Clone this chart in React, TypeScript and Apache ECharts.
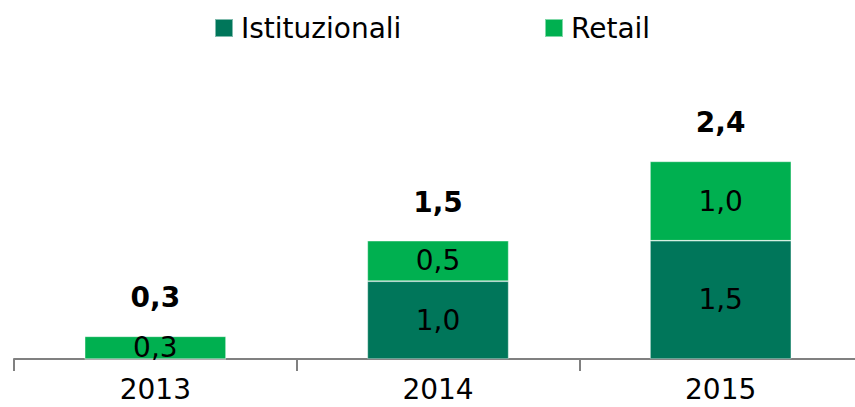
import React, { useEffect, useRef } from "react";
import * as echarts from "echarts";

const categories = ["2013", "2014", "2015"];
const istituzionali = [0, 0.96, 1.46];
const retail = [0.28, 0.5, 0.98];
const totals = categories.map((_, i) => istituzionali[i] + retail[i]);

const fmt = (v: number) => (Math.round(v * 10) / 10).toFixed(1).replace(".", ",");
const FONT = "DejaVu Sans";

export default function App() {
  const ref = useRef<HTMLDivElement>(null);
  useEffect(() => {
    if (!ref.current) return;
    const chart = echarts.init(ref.current, undefined, { renderer: "svg" });
    const segLabel = {
      show: true,
      position: "inside",
      color: "#000",
      fontFamily: FONT,
      fontSize: 28,
      formatter: (p: any) => (p.value ? fmt(p.value) : ""),
    };
    const legendBase = {
      top: 14,
      itemWidth: 18,
      itemHeight: 18,
      icon: "rect",
      padding: 0,
      textStyle: { fontFamily: FONT, fontSize: 28, color: "#000", padding: [0, 0, 0, 3] },
    };
    chart.setOption({
      animation: false,
      legend: [
        { ...legendBase, left: 214, data: ["Istituzionali"] },
        { ...legendBase, left: 544, data: ["Retail"] },
      ],
      grid: { left: 14, right: 8, top: 116, bottom: 48 },
      xAxis: {
        type: "category",
        data: categories,
        axisLine: { lineStyle: { color: "#808080", width: 2 } },
        axisTick: { show: true, length: 12, lineStyle: { color: "#808080", width: 2 } },
        axisLabel: { fontFamily: FONT, fontSize: 28, lineHeight: 24, color: "#000", margin: 18 },
      },
      yAxis: { type: "value", min: 0, max: 3, show: false, splitLine: { show: false } },
      series: [
        {
          name: "Istituzionali",
          type: "bar",
          stack: "tot",
          barWidth: "50%",
          data: istituzionali,
          itemStyle: { color: "#00765A", borderColor: "rgba(255,255,255,0.5)", borderWidth: 0.75 },
          label: segLabel,
        },
        {
          name: "Retail",
          type: "bar",
          stack: "tot",
          barWidth: "50%",
          data: retail,
          itemStyle: { color: "#00B050", borderColor: "rgba(255,255,255,0.5)", borderWidth: 0.75 },
          label: segLabel,
        },
        {
          name: "Totale",
          type: "line",
          data: totals,
          symbol: "circle",
          symbolSize: 1,
          showSymbol: true,
          silent: true,
          itemStyle: { color: "rgba(0,0,0,0)" },
          lineStyle: { width: 0, opacity: 0 },
          label: {
            show: true,
            position: "top",
            distance: 24,
            color: "#000",
            fontFamily: FONT,
            fontSize: 28,
            fontWeight: "bold",
            formatter: (p: any) => fmt(p.value),
          },
        },
      ],
    });
    return () => chart.dispose();
  }, []);
  return (
    <div style={{ width: 855, height: 407, position: "absolute", left: 0, top: 0, overflow: "hidden" }}>
      <div ref={ref} style={{ width: 870, height: 407 }} />
    </div>
  );
}
